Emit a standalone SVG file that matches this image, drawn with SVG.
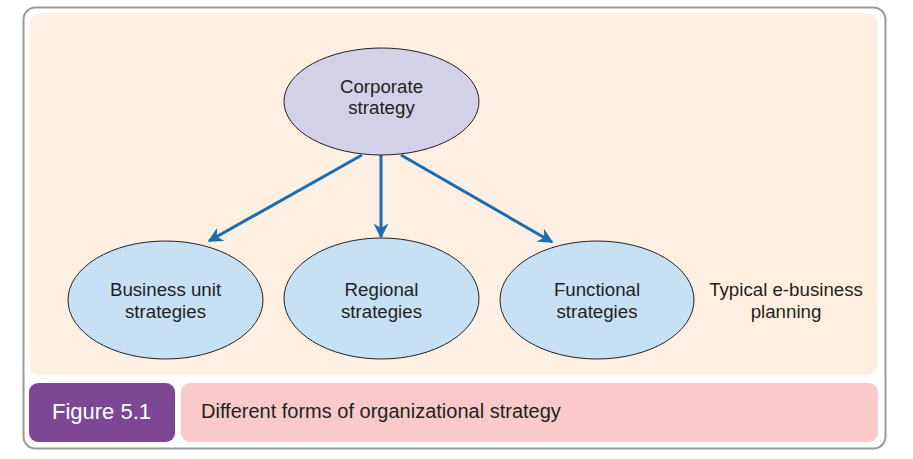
<svg xmlns="http://www.w3.org/2000/svg" width="913" height="459" viewBox="0 0 913 459">
<defs>
<style>
.t{font-family:"Liberation Sans",Arial,sans-serif;font-size:18.7px;fill:#231f20;text-anchor:middle}
.node{stroke:#231f20;stroke-width:1}
.conn{stroke:#1b6db0;stroke-width:3;fill:none;marker-end:url(#ah)}
</style>
<marker id="ah" viewBox="0 0 10 10" refX="9" refY="5" markerWidth="5" markerHeight="5" orient="auto" markerUnits="strokeWidth">
<path d="M0,0 L10,5 L0,10 L3,5 Z" fill="#1b6db0"/>
</marker>
</defs>
<rect x="23.5" y="7.5" width="862" height="441" rx="12" fill="#fff" stroke="#9a9a9a" stroke-width="2"/>
<rect x="29.5" y="13.5" width="848.5" height="361.5" rx="10" fill="#fdf0e2"/>
<g id="connectors">
<line class="conn" x1="362" y1="155" x2="209" y2="241"/>
<line class="conn" x1="381" y1="155" x2="381" y2="237"/>
<line class="conn" x1="401" y1="155" x2="552" y2="242"/>
</g>
<g id="corporate">
<ellipse class="node" cx="381.5" cy="101.5" rx="97.5" ry="53.5" fill="#d3d1e8"/>
<text class="t" x="381.5" y="93">Corporate</text>
<text class="t" x="381.5" y="114">strategy</text>
</g>
<g id="business">
<ellipse class="node" cx="165.5" cy="300" rx="97.5" ry="59" fill="#c6e1f4"/>
<text class="t" x="165.5" y="296">Business unit</text>
<text class="t" x="165.5" y="318">strategies</text>
</g>
<g id="regional">
<ellipse class="node" cx="381.5" cy="298.5" rx="97.5" ry="60.5" fill="#c6e1f4"/>
<text class="t" x="381.5" y="296">Regional</text>
<text class="t" x="381.5" y="318">strategies</text>
</g>
<g id="functional">
<ellipse class="node" cx="597" cy="300" rx="97" ry="59" fill="#c6e1f4"/>
<text class="t" x="597" y="296">Functional</text>
<text class="t" x="597" y="318">strategies</text>
</g>
<g id="note">
<text class="t" x="786" y="296">Typical e-business</text>
<text class="t" x="786" y="318">planning</text>
</g>
<g id="caption">
<rect x="29" y="383" width="146" height="59" rx="9" fill="#7d4794"/>
<text x="101.5" y="419" font-family="Liberation Sans,Arial,sans-serif" font-size="22" fill="#fff" text-anchor="middle">Figure 5.1</text>
<rect x="181" y="383" width="697" height="59" rx="9" fill="#f9c9cb"/>
<text x="201" y="418" font-family="Liberation Sans,Arial,sans-serif" font-size="20" fill="#231f20">Different forms of organizational strategy</text>
</g>
</svg>
